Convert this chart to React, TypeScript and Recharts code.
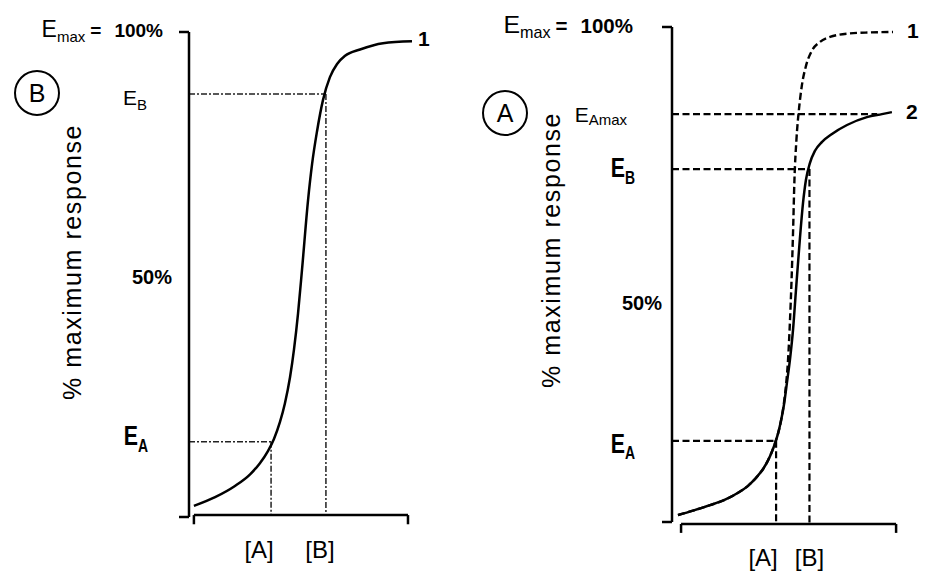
import { LineChart, Line, XAxis, YAxis, ReferenceLine, LabelList } from 'recharts'

const FONT = "Arial, 'Liberation Sans', Helvetica, sans-serif"
const INK = '#000'

// panel B (left) – one agonist, curve 1
const bConc = [2.2, 11.7, 20.6, 27.4, 31.8, 35.4, 38.1, 40.8, 43.0, 45.3, 47.1, 48.9, 50.7, 53.4, 55.2, 57.4, 60.1, 63.2, 66.4, 70.0, 76.7, 87.0, 100]
const bCurve1 = [2.3, 4.1, 6.4, 8.8, 11.1, 13.6, 16.1, 19.6, 23.4, 28.8, 34.6, 42.0, 51.1, 65.4, 72.8, 79.5, 86.0, 90.7, 93.4, 95.1, 96.4, 97.7, 98.1]
const bDoseA = 36.8
const bDoseB = 61.4
const bEffA = 15.5
const bEffB = 87.2

// panel A (right) – full agonist 1 (dashed) vs partial agonist 2
const aConc1 = [2.7, 9.5, 17.2, 24.0, 29.9, 34.4, 38.0, 41.2, 43.4, 45.2, 46.6, 48.0, 49.3, 50.7, 51.6, 52.5, 53.4, 54.1, 54.8, 55.4, 56.3, 57.5, 58.8, 60.6, 63.3, 67.0, 71.5, 80.5, 89.6, 100]
const aCurve1 = [1.4, 2.3, 3.4, 4.5, 5.9, 7.3, 8.9, 10.7, 12.4, 14.2, 15.9, 17.9, 20.4, 24.2, 27.7, 32.7, 40.8, 48.9, 59.0, 69.1, 77.2, 83.6, 88.3, 92.1, 95.2, 97.0, 98.0, 98.7, 98.9, 99.0]
const aConc2 = [2.7, 9.5, 17.2, 24.0, 29.9, 34.4, 38.0, 41.2, 43.4, 45.2, 46.6, 48.0, 49.3, 50.7, 52.0, 53.4, 54.8, 56.1, 57.9, 59.3, 60.6, 62.4, 64.7, 67.9, 72.4, 79.2, 88.2, 95.0, 99.5]
const aCurve2 = [1.4, 2.3, 3.4, 4.5, 5.9, 7.3, 8.9, 10.7, 12.4, 14.2, 15.9, 17.9, 20.4, 23.8, 28.1, 32.9, 39.0, 46.9, 57.4, 64.5, 69.1, 72.5, 75.0, 76.8, 78.4, 80.2, 81.8, 82.4, 82.8]
const aDoseA = 47.1
const aDoseB = 62.2
const aEffA = 16.4
const aEffB = 71.3
const aEffAmax = 82.4

const yTicksB = [0, bEffA, 50, bEffB, 100]
const yTicksA = [0, aEffA, 50, aEffB, aEffAmax, 100]
const doseLabels = ['[A]', '[B]']
const curveNames = ['1', '2']
const yTitle = '% maximum response'

const zip = (xs: number[], ys: number[]) => xs.map((x, i) => ({ x, y: ys[i] }))
const bData1 = zip(bConc, bCurve1)
const aData1 = zip(aConc1, aCurve1)
const aData2 = zip(aConc2, aCurve2)

const tickMark = (x: number, y: number) => (
  <line x1={x - 10} x2={x} y1={y} y2={y} stroke={INK} strokeWidth={2.5} />
)

function Emax({ x, y, big }: { x: number; y: number; big?: boolean }) {
  const s = big ? 1.08 : 1
  return (
    <text x={x} y={y} textAnchor="end" fill={INK} style={{ fontFamily: FONT }}>
      <tspan fontSize={23 * s}>E</tspan>
      <tspan fontSize={15 * s} dy={5}>max</tspan>
      <tspan fontSize={19 * s} fontWeight="bold" dy={-5} dx={5}>=</tspan>
      <tspan fontSize={19 * s} fontWeight="bold" dx={13}>100%</tspan>
    </text>
  )
}

function ELabel({ x, y, sub, bold, subDy }: { x: number; y: number; sub: string; bold?: boolean; subDy: number }) {
  if (!bold)
    return (
      <text x={x} y={y} textAnchor="end" fill={INK} style={{ fontFamily: FONT }}>
        <tspan fontSize={21}>E</tspan>
        <tspan fontSize={15} dy={subDy}>{sub}</tspan>
      </text>
    )
  // condensed bold look of the original labels
  return (
    <g transform={`translate(${x},${y}) scale(0.82,1.08)`}>
      <text x={0} y={0} textAnchor="end" fill={INK} style={{ fontFamily: FONT, fontWeight: 'bold' }}>
        <tspan fontSize={26}>E</tspan>
        <tspan fontSize={17} dy={subDy}>{sub}</tspan>
      </text>
    </g>
  )
}

function BTick(p: any) {
  const { x, y, payload } = p
  const v = payload.value
  if (v === 0) return tickMark(x, y)
  if (v === 100) return <g>{tickMark(x, y)}<Emax x={x - 26} y={y + 5} /></g>
  if (v === 50)
    return <text x={x - 17} y={y + 9} textAnchor="end" fontSize={20} fontWeight="bold" fill={INK} style={{ fontFamily: FONT }}>50%</text>
  if (v === bEffB) return <ELabel x={x - 42} y={y + 11} sub="B" subDy={5} />
  if (v === bEffA) return <ELabel x={x - 41} y={y + 3} sub="A" subDy={7} bold />
  return <g />
}

function ATick(p: any) {
  const { x, y, payload } = p
  const v = payload.value
  if (v === 0) return tickMark(x, y)
  if (v === 100) return <g>{tickMark(x, y)}<Emax x={x - 39} y={y + 6} big /></g>
  if (v === 50)
    return <text x={x - 10} y={y + 35} textAnchor="end" fontSize={20} fontWeight="bold" fill={INK} style={{ fontFamily: FONT }}>50%</text>
  if (v === aEffAmax) return <ELabel x={x - 45} y={y + 8} sub="Amax" subDy={3} />
  if (v === aEffB) return <ELabel x={x - 37} y={y + 8} sub="B" subDy={6} bold />
  if (v === aEffA) return <ELabel x={x - 37} y={y + 12} sub="A" subDy={6} bold />
  return <g />
}

const doseTick = (doses: number[], shifts: number[], dy: number) => (p: any) => {
  const i = doses.indexOf(p.payload.value)
  return (
    <text x={p.x + shifts[i]} y={p.y + dy} textAnchor="middle" fontSize={24} fill={INK} style={{ fontFamily: FONT }}>
      {doseLabels[i]}
    </text>
  )
}

// circled panel letter + rotated axis title, placed relative to the y axis box
const sideDecor = (letter: string, cdx: number, cdy: number, tdx: number, tdy: number) => (p: any) => {
  const vb = p.viewBox || {}
  const px = (vb.x ?? 0) + (vb.width ?? 0)
  const py = vb.y ?? 0
  const cx = px + cdx
  const cy = py + cdy
  const tx = px + tdx
  const ty = py + tdy
  return (
    <g>
      <circle cx={cx} cy={cy} r={22} fill="none" stroke={INK} strokeWidth={2} />
      <text x={cx} y={cy + 9} textAnchor="middle" fontSize={25} fill={INK} style={{ fontFamily: FONT }}>{letter}</text>
      <text x={tx} y={ty} transform={`rotate(-90, ${tx}, ${ty})`} textAnchor="middle" dominantBaseline="central"
        fontSize={25} letterSpacing={1.6} fill={INK} style={{ fontFamily: FONT }}>{yTitle}</text>
    </g>
  )
}

const endLabel = (name: string, n: number, dx: number, dy: number) => (p: any) => {
  if (p.index !== n - 1) return null
  const x = p.x ?? p.viewBox?.x
  const y = p.y ?? p.viewBox?.y
  return <text x={x + dx} y={y + dy} fontSize={21} fontWeight="bold" fill={INK} style={{ fontFamily: FONT }}>{name}</text>
}

const dashDot = { stroke: '#222', strokeWidth: 1.5, strokeDasharray: '6 2 2 2', ifOverflow: 'visible' as const }
const dashed = { stroke: INK, strokeWidth: 2.2, strokeDasharray: '7 3.5', ifOverflow: 'visible' as const }
const solidAxis = { stroke: INK, strokeWidth: 2.5, ifOverflow: 'visible' as const }

function PanelB() {
  return (
    <LineChart width={460} height={572} margin={{ top: 32, right: 48, bottom: 15, left: 129 }}>
      <XAxis type="number" dataKey="x" domain={[0, 100]} ticks={[bDoseA, bDoseB]} interval={0}
        axisLine={false} tickLine={false} tickSize={0} tickMargin={0} height={40}
        tick={doseTick([bDoseA, bDoseB], [-12, -6], 41)} />
      <YAxis type="number" domain={[0, 100]} ticks={yTicksB} interval={0} width={60}
        axisLine={{ stroke: INK, strokeWidth: 2.5 }} tickLine={false} tickSize={0} tickMargin={0}
        tick={BTick} label={sideDecor('B', -152, 61, -117, 230)} />
      <ReferenceLine segment={[{ x: 0, y: bEffB }, { x: bDoseB, y: bEffB }]} {...dashDot} />
      <ReferenceLine segment={[{ x: bDoseB, y: bEffB }, { x: bDoseB, y: 0.4 }]} {...dashDot} />
      <ReferenceLine segment={[{ x: 0, y: bEffA }, { x: bDoseA, y: bEffA }]} {...dashDot} />
      <ReferenceLine segment={[{ x: bDoseA, y: bEffA }, { x: bDoseA, y: 0.4 }]} {...dashDot} />
      <ReferenceLine segment={[{ x: 2.2, y: 0.4 }, { x: 98.2, y: 0.4 }]} {...solidAxis} />
      <ReferenceLine segment={[{ x: 2.2, y: 0.4 }, { x: 2.2, y: -1.5 }]} {...solidAxis} />
      <ReferenceLine segment={[{ x: 98.2, y: 0.4 }, { x: 98.2, y: -1.5 }]} {...solidAxis} />
      <Line data={bData1} dataKey="y" type="monotone" stroke={INK} strokeWidth={2.5} dot={false} activeDot={false} isAnimationActive={false}>
        <LabelList dataKey="y" content={endLabel(curveNames[0], bData1.length, 6, 5)} />
      </Line>
    </LineChart>
  )
}

function PanelA() {
  return (
    <LineChart width={467} height={572} margin={{ top: 27, right: 34, bottom: 10, left: 152 }}>
      <XAxis type="number" dataKey="x" domain={[0, 100]} ticks={[aDoseA, aDoseB]} interval={0}
        axisLine={false} tickLine={false} tickSize={0} tickMargin={0} height={40}
        tick={doseTick([aDoseA, aDoseB], [-13, 0], 44)} />
      <YAxis type="number" domain={[0, 100]} ticks={yTicksA} interval={0} width={60}
        axisLine={{ stroke: INK, strokeWidth: 2.5 }} tickLine={false} tickSize={0} tickMargin={0}
        tick={ATick} label={sideDecor('A', -167, 86, -121, 223)} />
      <ReferenceLine segment={[{ x: 0, y: aEffAmax }, { x: 92.8, y: aEffAmax }]} {...dashed} />
      <ReferenceLine segment={[{ x: 0, y: aEffB }, { x: aDoseB, y: aEffB }]} {...dashed} />
      <ReferenceLine segment={[{ x: aDoseB, y: aEffB }, { x: aDoseB, y: -0.4 }]} {...dashed} />
      <ReferenceLine segment={[{ x: 0, y: aEffA }, { x: aDoseA, y: aEffA }]} {...dashed} />
      <ReferenceLine segment={[{ x: aDoseA, y: aEffA }, { x: aDoseA, y: -0.4 }]} {...dashed} />
      <ReferenceLine segment={[{ x: 4.1, y: -0.4 }, { x: 101.4, y: -0.4 }]} {...solidAxis} />
      <ReferenceLine segment={[{ x: 4.1, y: -0.4 }, { x: 4.1, y: -2.2 }]} {...solidAxis} />
      <ReferenceLine segment={[{ x: 101.4, y: -0.4 }, { x: 101.4, y: -2.2 }]} {...solidAxis} />
      <Line data={aData1} dataKey="y" type="monotone" stroke={INK} strokeWidth={2.4} strokeDasharray="7 3.5" dot={false} activeDot={false} isAnimationActive={false}>
        <LabelList dataKey="y" content={endLabel(curveNames[0], aData1.length, 14, 6)} />
      </Line>
      <Line data={aData2} dataKey="y" type="monotone" stroke={INK} strokeWidth={2.5} dot={false} activeDot={false} isAnimationActive={false}>
        <LabelList dataKey="y" content={endLabel(curveNames[1], aData2.length, 14, 7)} />
      </Line>
    </LineChart>
  )
}

export default function App() {
  return (
    <div style={{ position: 'absolute', left: 0, top: 0, width: 927, height: 572, background: '#fff', overflow: 'hidden' }}>
      <div style={{ position: 'absolute', left: 0, top: 0 }}>
        <PanelB />
      </div>
      <div style={{ position: 'absolute', left: 460, top: 0 }}>
        <PanelA />
      </div>
    </div>
  )
}
